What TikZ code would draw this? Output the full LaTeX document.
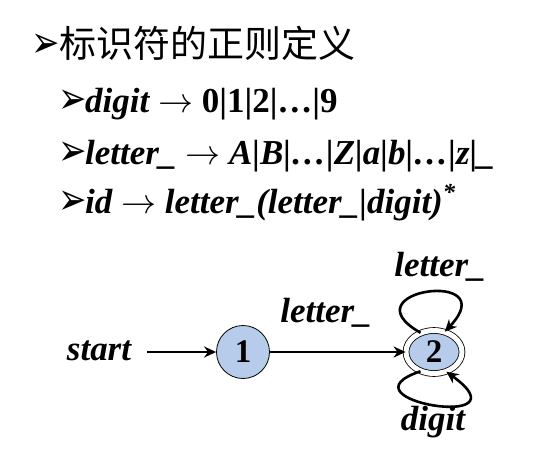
\documentclass[tikz,border=0pt]{standalone}
\usepackage{fix-cm}
\usepackage{fontspec}
\setmainfont{Liberation Serif}
\newfontfamily\cjkfont{Noto Sans CJK SC}
\newfontfamily\symfont{DejaVu Sans}
\usetikzlibrary{arrows.meta,shapes.geometric}
\definecolor{nodeblue}{RGB}{182,204,234}
\begin{document}
\begin{tikzpicture}[x=1pt,y=-1pt,
  txt/.style={anchor=base west,inner sep=0pt,font=\fontsize{35}{35}\selectfont\bfseries\itshape},
  bul/.style={anchor=base west,inner sep=0pt,font=\fontsize{34}{34}\selectfont\symfont},
  lbl/.style={anchor=base,inner sep=0pt,font=\fontsize{35}{35}\selectfont\bfseries\itshape},
  state/.style={circle,draw,thick,fill=nodeblue,minimum size=53pt,inner sep=0pt,font=\fontsize{33}{33}\selectfont\bfseries},
  accstate/.style={ellipse,draw,thick,fill=nodeblue,minimum width=56pt,minimum height=43pt,inner sep=0pt,font=\fontsize{33}{33}\selectfont\bfseries,double=white,double distance=5pt},
  edge/.style={line width=2.6pt,-{Stealth[length=12pt,width=11pt]}}]
\useasboundingbox (0,0) rectangle (550,456);
% heading
\node[bul] (b0) at (31,57) {\scalebox{1}[1.3]{➢}};
\node[anchor=base west,inner sep=0pt,font=\fontsize{37}{37}\selectfont\cjkfont] (title) at (59,57) {标识符的正则定义};
\node[bul] (b1) at (58,113) {\scalebox{1}[1.3]{➢}};
\node[txt] (l1) at (85,112) {digit {\upshape$\rightarrow$} {\upshape 0|1|2|…|9}};
\node[bul] (b2) at (58,165) {\scalebox{1}[1.3]{➢}};
\node[txt] (l2) at (85,164) {letter\_ {\upshape$\rightarrow$} A|B|…|Z|a|b|…|z|\_};
\node[bul] (b3) at (58,214) {\scalebox{1}[1.3]{➢}};
\node[txt] (l3) at (85,213) {id {\upshape$\rightarrow$} letter\_(letter\_|digit)\textsuperscript{*}};
% automaton
\node[lbl] (start) at (99,360) {start};
\coordinate (s0) at (147,352);
\node[state] (n1) at (243,352) {1};
\node[accstate] (n2) at (434,352) {2};
\draw[edge] (s0) -- (n1);
\draw[edge] (n1) -- (n2);
\node[lbl] (e12) at (326,322) {letter\_};
\draw[edge] (n2.125) .. controls (345,290) and (505,268) .. (n2.62);
\draw[edge] (n2.235) .. controls (335,400) and (530,432) .. (n2.-58);
\node[lbl] (top) at (440,276) {letter\_};
\node[lbl] (bot) at (433,430) {digit};
\end{tikzpicture}
\end{document}
